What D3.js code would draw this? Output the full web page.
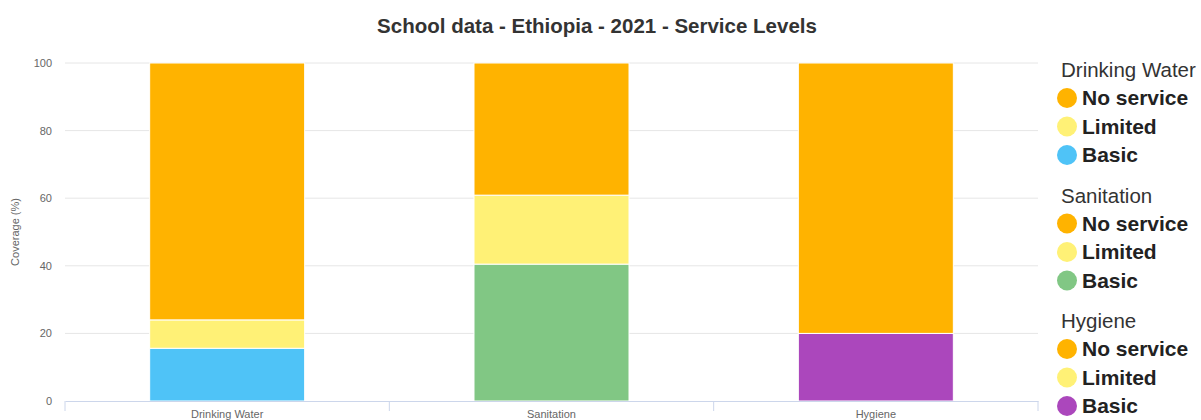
<!DOCTYPE html>
<html>
<head>
<meta charset="utf-8">
<script src="https://cdn.jsdelivr.net/npm/d3@7"></script>
<style>
  body { margin: 0; background: #fff; }
  svg { display: block; font-family: "Liberation Sans", Arial, sans-serif; }
</style>
</head>
<body>
<div id="chart"></div>
<script>
// Categories and stacked values (percent)
const categories = ["Drinking Water", "Sanitation", "Hygiene"];
const levels = ["Basic", "Limited", "No service"];
const basicValues = [15.6, 40.5, 20.0];
const limitedValues = [8.4, 20.4, 0];
const noServiceValues = [76.0, 39.1, 80.0];
const yTicks = [0, 20, 40, 60, 80, 100];

// Colour of each level per category
const basicColors = ["#4FC3F7", "#81C784", "#AB47BC"];
const LIMITED_COLOR = "#FFF176";
const NO_SERVICE_COLOR = "#FFB300";

const svgWidth = 1201, svgHeight = 420;
const margin = { top: 63, right: 163, bottom: 19, left: 65 };
const width = svgWidth - margin.left - margin.right;
const height = svgHeight - margin.top - margin.bottom;

const svg = d3.select("#chart").append("svg")
    .attr("width", svgWidth)
    .attr("height", svgHeight);

// Title
svg.append("text")
    .attr("x", 597).attr("y", 33)
    .attr("text-anchor", "middle")
    .attr("font-size", 20.5).attr("font-weight", "bold")
    .attr("fill", "#333")
    .text("School data - Ethiopia - 2021 - Service Levels");

const g = svg.append("g").attr("transform", `translate(${margin.left},${margin.top})`);

const x = d3.scaleBand().domain(categories).range([0, width]).paddingInner(0).paddingOuter(0);
const y = d3.scaleLinear().domain([0, 100]).range([height, 0]);

// Grid lines
g.append("g")
    .selectAll("line")
    .data(yTicks.filter(t => t > 0))
    .join("line")
    .attr("x1", 0).attr("x2", width)
    .attr("y1", d => y(d)).attr("y2", d => y(d))
    .attr("stroke", "#e6e6e6").attr("stroke-width", 1);

// Y axis labels
const yAxis = g.append("g")
    .call(d3.axisLeft(y).tickValues(yTicks).tickSize(0).tickPadding(13));
yAxis.select(".domain").remove();
yAxis.selectAll("text").attr("fill", "#666").attr("font-size", 11)
    .attr("font-family", "Liberation Sans, Arial, sans-serif");

// Y axis title
svg.append("text")
    .attr("transform", `translate(19,${margin.top + height / 2}) rotate(-90)`)
    .attr("text-anchor", "middle")
    .attr("font-size", 11).attr("fill", "#666")
    .text("Coverage (%)");

// Stacked data
const rows = categories.map((c, i) => ({
    category: c,
    "Basic": basicValues[i],
    "Limited": limitedValues[i],
    "No service": noServiceValues[i]
}));
const stack = d3.stack().keys(levels)(rows);

const colorFor = (key, i) => key === "Basic" ? basicColors[i] : key === "Limited" ? LIMITED_COLOR : NO_SERVICE_COLOR;
const barWidth = 155;

stack.forEach(layer => {
    g.append("g")
        .selectAll("rect")
        .data(layer)
        .join("rect")
        .attr("x", d => x(d.data.category) + (x.bandwidth() - barWidth) / 2)
        .attr("width", barWidth)
        .attr("y", d => y(d[1]))
        .attr("height", d => Math.max(0, y(d[0]) - y(d[1])))
        .attr("fill", (d, i) => colorFor(layer.key, i))
        .attr("stroke", "#fff").attr("stroke-width", 1)
        .attr("display", d => d[1] - d[0] > 0 ? null : "none");
});

// X axis
const xAxis = g.append("g")
    .attr("transform", `translate(0,${height})`)
    .call(d3.axisBottom(x).tickSize(0).tickPadding(9));
xAxis.select(".domain").attr("stroke", "#ccd6eb");
xAxis.selectAll("text").attr("fill", "#666").attr("font-size", 11)
    .attr("font-family", "Liberation Sans, Arial, sans-serif");
// category boundary ticks
xAxis.append("g").selectAll("line")
    .data(categories.map(c => x(c)).concat([width]))
    .join("line")
    .attr("x1", d => d).attr("x2", d => d)
    .attr("y1", 0).attr("y2", 10)
    .attr("stroke", "#ccd6eb");

// Legend
const legendGroups = categories.map((c, i) => ({
    title: c,
    items: [
        { label: "No service", color: NO_SERVICE_COLOR },
        { label: "Limited", color: LIMITED_COLOR },
        { label: "Basic", color: basicColors[i] }
    ]
}));
const legend = svg.append("g").attr("transform", "translate(1061,0)");
legendGroups.forEach((grp, gi) => {
    const top = 77 + gi * 125.5;
    legend.append("text")
        .attr("x", 0).attr("y", top)
        .attr("font-size", 20.5).attr("fill", "#333")
        .text(grp.title);
    grp.items.forEach((it, ii) => {
        const cy = top + 21 + ii * 28.5;
        legend.append("circle")
            .attr("cx", 6).attr("cy", cy).attr("r", 10)
            .attr("fill", it.color);
        legend.append("text")
            .attr("x", 21).attr("y", cy + 7)
            .attr("font-size", 21).attr("font-weight", "bold").attr("fill", "#222")
            .text(it.label);
    });
});
</script>
</body>
</html>
